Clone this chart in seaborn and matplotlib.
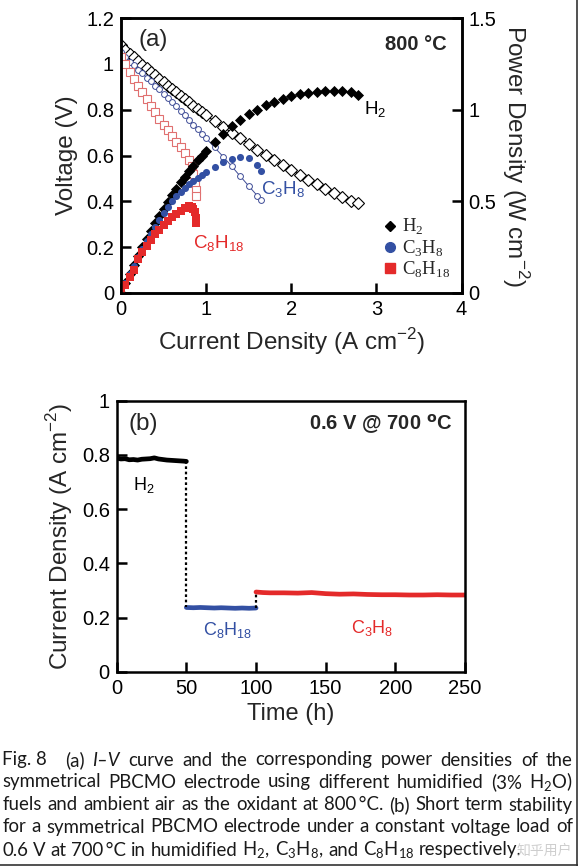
import numpy as np
import pandas as pd
import seaborn as sns
import matplotlib
matplotlib.use("Agg")
import matplotlib.pyplot as plt
from matplotlib.lines import Line2D

# ---------------- data: panel (a) ----------------
h2_i = [0, 0.05, 0.1, 0.15, 0.2, 0.25, 0.3, 0.35, 0.4, 0.45, 0.5, 0.55, 0.6, 0.65, 0.7, 0.75, 0.8, 0.85, 0.9, 0.95, 1.0,
        1.1, 1.2, 1.3, 1.4, 1.5, 1.6, 1.7, 1.8, 1.9, 2.0, 2.1, 2.2, 2.3, 2.4, 2.5, 2.6, 2.7, 2.78]
h2_v = [1.08, 1.062, 1.045, 1.029, 1.013, 0.997, 0.982, 0.966, 0.951, 0.935, 0.92, 0.905, 0.89, 0.875, 0.861, 0.846, 0.832, 0.817, 0.803, 0.789, 0.775,
        0.749, 0.725, 0.700, 0.675, 0.650, 0.626, 0.603, 0.580, 0.558, 0.537, 0.516, 0.495, 0.475, 0.455, 0.436, 0.418, 0.402, 0.392]
h2_p = [0, 0.053, 0.105, 0.154, 0.203, 0.249, 0.295, 0.338, 0.380, 0.421, 0.46, 0.498, 0.534, 0.569, 0.603, 0.635, 0.666, 0.694, 0.723, 0.750, 0.775,
        0.824, 0.87, 0.91, 0.945, 0.975, 1.0, 1.025, 1.044, 1.06, 1.074, 1.086, 1.093, 1.097, 1.10, 1.10, 1.10, 1.095, 1.08]

c3_i = [0, 0.05, 0.1, 0.15, 0.2, 0.25, 0.3, 0.35, 0.4, 0.45, 0.5, 0.55, 0.6, 0.65, 0.7, 0.75, 0.8, 0.85, 0.9, 0.95, 1.0,
        1.1, 1.2, 1.3, 1.4, 1.5, 1.6, 1.65]
c3_v = [1.05, 1.03, 1.01, 0.993, 0.975, 0.958, 0.94, 0.923, 0.905, 0.888, 0.87, 0.853, 0.835, 0.815, 0.795, 0.775, 0.755, 0.735, 0.715, 0.695, 0.675,
        0.635, 0.595, 0.553, 0.51, 0.467, 0.425, 0.405]
c3_p = [0, 0.052, 0.101, 0.149, 0.195, 0.24, 0.282, 0.323, 0.362, 0.40, 0.435, 0.469, 0.50, 0.53, 0.552, 0.573, 0.592, 0.61, 0.628, 0.645, 0.66,
        0.69, 0.715, 0.732, 0.74, 0.735, 0.70, 0.668]

c8_i = [0, 0.05, 0.1, 0.15, 0.2, 0.25, 0.3, 0.35, 0.4, 0.45, 0.5, 0.55, 0.6, 0.65, 0.7, 0.75, 0.8, 0.83, 0.85, 0.87, 0.88, 0.885]
c8_v = [1.03, 1.0, 0.965, 0.935, 0.905, 0.875, 0.845, 0.815, 0.79, 0.76, 0.735, 0.71, 0.685, 0.66, 0.635, 0.61, 0.58, 0.555, 0.52, 0.48, 0.45, 0.425]
c8_p = [0, 0.045, 0.088, 0.128, 0.185, 0.225, 0.255, 0.29, 0.32, 0.345, 0.37, 0.395, 0.415, 0.433, 0.449, 0.462, 0.472, 0.47, 0.46, 0.44, 0.41, 0.38]

# ---------------- data: panel (b) ----------------
h2_t = [0, 1, 3, 6, 9, 12, 15, 18, 21, 24, 27, 30, 33, 36, 39, 42, 45, 48, 50]
h2_j = [0.795, 0.787, 0.785, 0.786, 0.782, 0.783, 0.781, 0.784, 0.785, 0.786, 0.789, 0.785, 0.783, 0.781, 0.780, 0.779, 0.778, 0.777, 0.776]
c8_t = [50, 55, 60, 65, 70, 75, 80, 85, 90, 95, 100]
c8_j = [0.237, 0.236, 0.237, 0.236, 0.235, 0.236, 0.235, 0.234, 0.235, 0.234, 0.235]
c3_t = [100, 105, 110, 120, 130, 140, 150, 160, 170, 180, 190, 200, 210, 220, 230, 240, 251]
c3_j = [0.294, 0.292, 0.291, 0.291, 0.290, 0.292, 0.288, 0.286, 0.287, 0.285, 0.284, 0.284, 0.283, 0.283, 0.284, 0.283, 0.283]

yt_a_left = [0, 0.2, 0.4, 0.6, 0.8, 1.0, 1.2]
yl_a_left = ["0", "0.2", "0.4", "0.6", "0.8", "1", "1.2"]
yt_a_right = [0, 0.5, 1.0, 1.5]
yl_a_right = ["0", "0.5", "1", "1.5"]
xt_a = [0, 1, 2, 3, 4]
yt_b = [0, 0.2, 0.4, 0.6, 0.8, 1.0]
yl_b = ["0", "0.2", "0.4", "0.6", "0.8", "1"]
xt_b = [0, 50, 100, 150, 200, 250]

# ---------------- style ----------------
sns.set_theme(style="ticks")
plt.rcParams["font.family"] = ["Liberation Sans", "DejaVu Sans"]
plt.rcParams["axes.linewidth"] = 1.8
plt.rcParams["xtick.direction"] = "in"
plt.rcParams["ytick.direction"] = "in"

BLUE = "#3350a3"
BLUE_L = "#3e4c96"
RED = "#e42a2a"
PINK = "#e07070"

W, H = 578, 866
fig = plt.figure(figsize=(W / 100, H / 100), dpi=100)
fig.patch.set_facecolor("white")

def ax_rect(l, t, r, b):
    return [l / W, 1 - b / H, (r - l) / W, (b - t) / H]

sup = lambda s: r"$^{\mathregular{" + s + "}}$"
sub = lambda s: r"$_{\mathregular{" + s + "}}$"

# ---------------- panel (a) ----------------
ax1 = fig.add_axes(ax_rect(121, 18, 461.5, 293))
ax2 = ax1.twinx()

sns.lineplot(x=h2_i, y=h2_v, ax=ax1, sort=False, estimator=None, color="black", lw=0.8,
             marker="D", markersize=6, markerfacecolor="white", markeredgecolor="black", markeredgewidth=0.8)
sns.lineplot(x=c3_i, y=c3_v, ax=ax1, sort=False, estimator=None, color=BLUE_L, lw=0.7,
             marker="o", markersize=4.2, markerfacecolor="white", markeredgecolor=BLUE_L, markeredgewidth=0.7)
sns.lineplot(x=c8_i, y=c8_v, ax=ax1, sort=False, estimator=None, color=PINK, lw=0.7,
             marker="s", markersize=5.8, markerfacecolor="white", markeredgecolor=PINK, markeredgewidth=0.8)

sns.scatterplot(x=h2_i, y=h2_p, ax=ax2, marker="D", s=32, color="black", linewidth=0)
sns.scatterplot(x=c3_i, y=c3_p, ax=ax2, marker="o", s=26, color=BLUE, linewidth=0)
sns.scatterplot(x=c8_i, y=c8_p, ax=ax2, marker="s", s=26, color=RED, linewidth=0)

ax1.set_xlim(0, 4)
ax1.set_ylim(0, 1.2)
ax2.set_ylim(0, 1.5)
ax1.set_xticks(xt_a)
ax1.set_xticklabels([str(v) for v in xt_a])
ax1.set_yticks(yt_a_left)
ax1.set_yticklabels(yl_a_left)
ax2.set_yticks(yt_a_right)
ax2.set_yticklabels(yl_a_right)
for a in (ax1, ax2):
    a.tick_params(axis="both", which="both", direction="in", length=7, width=1.8,
                  labelsize=14.5, pad=5, colors="black")
    for s in a.spines.values():
        s.set_linewidth(1.8)
        s.set_color("black")
ax1.tick_params(axis="y", right=False)
ax2.tick_params(axis="y", left=False, right=True)

ax1.set_xlabel("Current Density (A cm" + sup("-2") + ")", fontsize=17.5, labelpad=5)
ax1.set_ylabel("Voltage (V)", fontsize=17.5, labelpad=6)
ax2.set_ylabel("Power Density (W cm" + sup("-2") + ")", fontsize=17.5, rotation=270, labelpad=25)

ax1.text(0.05, 0.92, "(a)", transform=ax1.transAxes, fontsize=17.5, ha="left", va="center")
ax1.text(0.955, 0.905, "800 \u00b0C", transform=ax1.transAxes, fontsize=14.5, fontweight="bold",
         ha="right", va="center")
ax2.text(2.85, 1.0, "H" + sub("2"), fontsize=13.5, ha="left", va="center", color="black")
ax2.text(1.65, 0.56, "C" + sub("3") + "H" + sub("8"), fontsize=13.5, ha="left", va="center", color=BLUE)
ax2.text(0.85, 0.27, "C" + sub("8") + "H" + sub("18"), fontsize=13.5, ha="left", va="center", color=RED)

leg_handles = [
    Line2D([], [], ls="none", marker="D", markersize=5.5, color="black"),
    Line2D([], [], ls="none", marker="o", markersize=7, color=BLUE),
    Line2D([], [], ls="none", marker="s", markersize=7, color=RED),
]
leg_labels = ["H" + sub("2"), "C" + sub("3") + "H" + sub("8"), "C" + sub("8") + "H" + sub("18")]
leg = ax2.legend(leg_handles, leg_labels, loc="lower right", bbox_to_anchor=(1.005, 0.0),
                 frameon=False, handlelength=0.7, handletextpad=0.3, labelspacing=0.05,
                 borderaxespad=0.3, prop={"family": ["Liberation Serif"], "size": 13.5})

# ---------------- panel (b) ----------------
ax3 = fig.add_axes(ax_rect(116.7, 400.7, 465, 671.7))
sns.lineplot(x=h2_t, y=h2_j, ax=ax3, sort=False, estimator=None, color="black", lw=3.4)
sns.lineplot(x=c8_t, y=c8_j, ax=ax3, sort=False, estimator=None, color=BLUE, lw=3.4)
sns.lineplot(x=c3_t, y=c3_j, ax=ax3, sort=False, estimator=None, color=RED, lw=3.4)
sns.lineplot(x=[h2_t[-1], c8_t[0]], y=[h2_j[-1], c8_j[0]], ax=ax3, sort=False, estimator=None,
             color="black", lw=1.6, ls=(0, (1.2, 1.2)))
sns.lineplot(x=[c8_t[-1], c3_t[0]], y=[c8_j[-1], c3_j[0]], ax=ax3, sort=False, estimator=None,
             color="black", lw=1.6, ls=(0, (1.2, 1.2)))
ax3.set_xlim(0, 250)
ax3.set_ylim(0, 1.0)
ax3.set_xticks(xt_b)
ax3.set_xticklabels([str(v) for v in xt_b])
ax3.set_yticks(yt_b)
ax3.set_yticklabels(yl_b)
ax3.tick_params(axis="both", direction="in", length=7, width=1.8, labelsize=14.5, pad=5, colors="black")
for s in ax3.spines.values():
    s.set_linewidth(1.8)
    s.set_color("black")
ax3.set_xlabel("Time (h)", fontsize=17, labelpad=4)
ax3.set_ylabel("Current Density (A cm" + sup("-2") + ")", fontsize=17.5, labelpad=5)
ax3.text(0.035, 0.915, "(b)", transform=ax3.transAxes, fontsize=17.5, ha="left", va="center")
ax3.text(0.965, 0.915, "0.6 V @ 700 $^{\\mathbf{o}}$C", transform=ax3.transAxes, fontsize=14.5,
         fontweight="bold", ha="right", va="center")
ax3.text(12, 0.69, "H" + sub("2"), fontsize=13, ha="left", va="center", color="black")
ax3.text(62, 0.155, "C" + sub("8") + "H" + sub("18"), fontsize=13, ha="left", va="center", color=BLUE)
ax3.text(168, 0.16, "C" + sub("3") + "H" + sub("8"), fontsize=13, ha="left", va="center", color=RED)

# ---------------- caption (justified) ----------------
CAP_FONT = ["Lato", "DejaVu Sans"]
CAP_SIZE = 13.4
CAP_COLOR = "#1a1a1a"
lines = [
    ([("Fig. 8\u2002", "normal"), ("(a)", "normal"), ("I\u2013V", "italic"), ("curve", "normal"), ("and", "normal"),
      ("the", "normal"), ("corresponding", "normal"), ("power", "normal"), ("densities", "normal"),
      ("of", "normal"), ("the", "normal")], True, 760),
    ([(w, "normal") for w in ["symmetrical", "PBCMO", "electrode", "using", "different", "humidified",
                               "(3%", "H" + sub("2") + "O)"]], True, 782),
    ([(w, "normal") for w in ["fuels", "and", "ambient", "air", "as", "the", "oxidant", "at", "800\u2009\u00b0C.",
                               "(b)", "Short", "term", "stability"]], True, 805),
    ([(w, "normal") for w in ["for", "a", "symmetrical", "PBCMO", "electrode", "under", "a", "constant",
                               "voltage", "load", "of"]], True, 827),
    ([(w, "normal") for w in ["0.6", "V", "at", "700\u2009\u00b0C", "in", "humidified", "H" + sub("2") + ",",
                               "C" + sub("3") + "H" + sub("8") + ",", "and", "C" + sub("8") + "H" + sub("18"),
                               "respectively."]], False, 850),
]
X0, X1 = 2.5, 573.0
all_lines = []
for words, just, ypix in lines:
    objs = [fig.text(0, 1 - ypix / H, w, fontsize=CAP_SIZE, family=CAP_FONT, style=st, color=CAP_COLOR,
                     ha="left", va="center") for w, st in words]
    all_lines.append((objs, just))
space_obj = fig.text(0, 0, "a a", fontsize=CAP_SIZE, family=CAP_FONT)
aa_obj = fig.text(0, 0, "aa", fontsize=CAP_SIZE, family=CAP_FONT)
fig.canvas.draw()
renderer = fig.canvas.get_renderer()
space_w = space_obj.get_window_extent(renderer).width - aa_obj.get_window_extent(renderer).width
space_obj.remove()
aa_obj.remove()
for objs, just in all_lines:
    widths = [o.get_window_extent(renderer).width for o in objs]
    if just:
        gap = (X1 - X0 - sum(widths)) / (len(objs) - 1)
    else:
        gap = space_w
    x = X0
    for o, w in zip(objs, widths):
        o.set_x(x / W)
        x += w + gap

# watermark, placed just right of the last caption line
fig.text(572 / W, 1 - 851 / H, "知乎用户", fontsize=10, family=["Noto Sans CJK SC"], color="#c9c9c9",
         ha="right", va="center", alpha=0.9)

# frame lines at right and bottom edge
fig.add_artist(Line2D([1 - 1.0 / W, 1 - 1.0 / W], [0, 1], transform=fig.transFigure, color="#333333", lw=1.2))
fig.add_artist(Line2D([0, 1], [1.0 / H, 1.0 / H], transform=fig.transFigure, color="#333333", lw=1.2))

fig.savefig("out.png", dpi=100, facecolor="white")
